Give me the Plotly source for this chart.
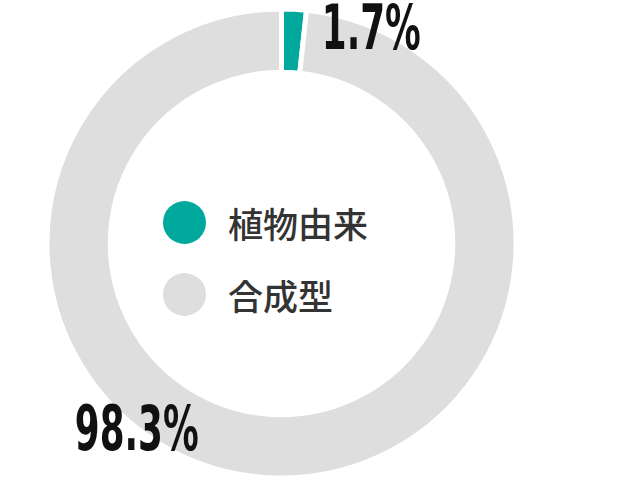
import plotly.graph_objects as go

categories = ["植物由来", "合成型"]
values = [1.7, 98.3]
colors = ["#00a99c", "#dedede"]

W, H = 620, 485

fig = go.Figure()
fig.add_trace(go.Pie(
    labels=categories,
    values=values,
    hole=0.73,
    sort=False,
    direction="clockwise",
    rotation=0,
    marker=dict(colors=colors, line=dict(color="white", width=5)),
    textinfo="none",
    hoverinfo="label+percent",
    showlegend=False,
    domain=dict(x=[47 / W, 516 / W], y=[7 / H, 476 / H]),
))

num_font = dict(family="DejaVu Sans Condensed, DejaVu Sans, sans-serif",
                size=62, color="#111111")

# percent labels
label_pos = [(371, 27), (137, 428)]
annotations = []
for v, (px, py) in zip(values, label_pos):
    annotations.append(dict(
        x=px / W, y=1 - py / H, xref="paper", yref="paper",
        text=f"<b>{v:.1f}%</b>", showarrow=False, font=num_font,
        xanchor="center", yanchor="middle",
    ))

# legend
shapes = []
legend_y = [222.5, 294.5]
for cat, col, ly in zip(categories, colors, legend_y):
    r = 21.5
    cx = 184.5
    shapes.append(dict(
        type="circle", xref="paper", yref="paper",
        x0=(cx - r) / W, x1=(cx + r) / W,
        y0=1 - (ly + r) / H, y1=1 - (ly - r) / H,
        fillcolor=col, line=dict(width=0),
    ))
    annotations.append(dict(
        x=226 / W, y=1 - ly / H, xref="paper", yref="paper",
        text=cat, showarrow=False,
        font=dict(family="Noto Sans CJK JP, sans-serif", size=35,
                  color="#333333", weight=500),
        xanchor="left", yanchor="middle",
    ))

fig.update_layout(
    width=W, height=H,
    margin=dict(l=0, r=0, t=0, b=0),
    paper_bgcolor="white", plot_bgcolor="white",
    annotations=annotations, shapes=shapes,
)

post = """
document.body.style.margin = '0';
document.querySelectorAll('.annotation-text').forEach(function (el) {
  if (el.textContent.indexOf('%') >= 0) {
    el.style.transformBox = 'fill-box';
    el.style.transformOrigin = 'center';
    el.style.transform = 'scaleX(0.64)';
  }
});
"""

fig.write_html("out.html", post_script=post, config={"displayModeBar": False})
